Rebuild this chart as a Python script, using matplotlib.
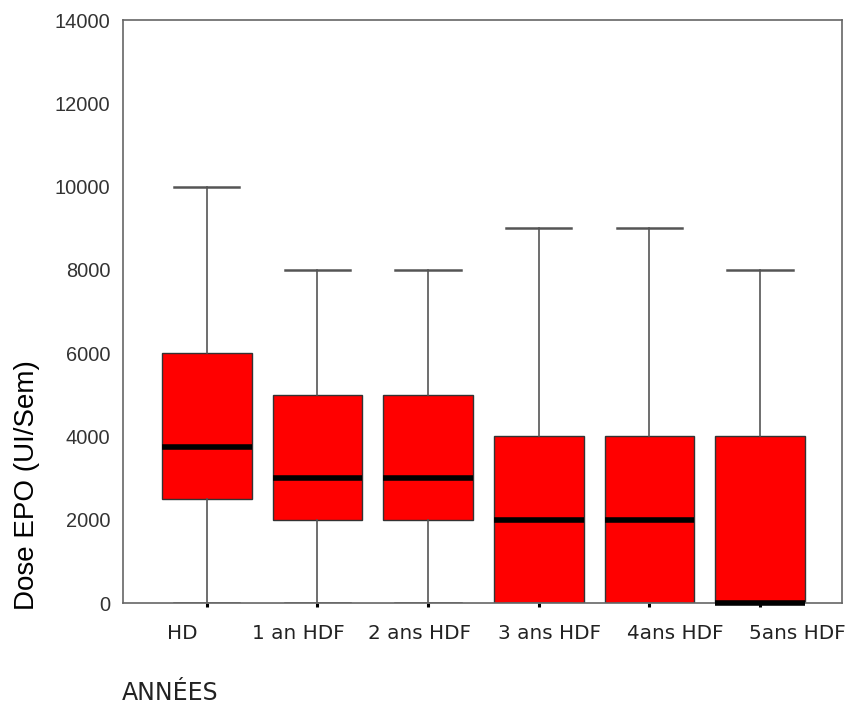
import matplotlib
matplotlib.use("Agg")
from matplotlib import pyplot as plt
import matplotlib.transforms as mtransforms

# EPO dose per year of treatment (box plot summary values)
groups = ['HD', '1 an HDF', '2 ans HDF', '3 ans HDF', '4ans HDF', '5ans HDF']
whis_low = [0, 0, 0, 0, 0, 0]
q1 = [2500, 2000, 2000, 0, 0, 0]
medians = [3750, 3000, 3000, 2000, 2000, 0]
q3 = [6000, 5000, 5000, 4000, 4000, 4000]
whis_high = [10000, 8000, 8000, 9000, 9000, 8000]

# where the group names sit along the x axis
label_x = [-0.22, 0.83, 1.92, 3.10, 4.23, 5.34]

stats = []
for g, lo, a, m, b, hi in zip(groups, whis_low, q1, medians, q3, whis_high):
    stats.append(dict(label=g, whislo=lo, q1=a, med=m, q3=b, whishi=hi, fliers=[]))

fig = plt.figure(figsize=(8.52, 7.07), dpi=100)
ax = fig.add_axes([0.1444, 0.1471, 0.8439, 0.8246])

pos = list(range(len(groups)))
bp = ax.bxp(stats, positions=pos, widths=0.81, capwidths=0.59,
            patch_artist=True, showfliers=False,
            boxprops=dict(facecolor='#ff0000', edgecolor='#333333', linewidth=1.0),
            medianprops=dict(color='black', linewidth=4, solid_capstyle='butt'),
            whiskerprops=dict(color='#555555', linewidth=1.2),
            capprops=dict(color='#555555', linewidth=1.8))
for med in bp['medians']:
    med.set_clip_on(False)
    med.set_zorder(3)

ax.set_xlim(-0.757, 5.74)
ax.set_ylim(0, 14000)
ax.set_yticks(range(0, 14001, 2000))
ax.set_xticks(pos)
ax.set_xticklabels([''] * len(groups))
ax.tick_params(axis='x', direction='out', length=3, width=2.2, color='black')
ax.tick_params(axis='y', length=0, pad=9, labelsize=14.4, labelcolor='#333333')
for lab in ax.get_yticklabels():
    lab.set_family('Liberation Sans')

for s in ax.spines.values():
    s.set_color('#666666')
    s.set_linewidth(1.2)
    s.set_zorder(2.6)

trans = mtransforms.blended_transform_factory(ax.transData, ax.transAxes)
for x, g in zip(label_x, groups):
    ax.text(x, -0.053, g, transform=trans, ha='center', va='center',
            fontsize=14.4, family='DejaVu Sans', color='#222222')

ax.set_ylabel('Dose EPO (UI/Sem)', fontsize=20, family='Liberation Sans',
              color='black')
ax.yaxis.set_label_coords(-0.134, -0.012, transform=ax.transAxes)
ax.yaxis.label.set_va('center')
ax.yaxis.label.set_ha('left')

fig.text(122 / 852, 1 - 693 / 707, 'ANNÉES', fontsize=17, family='DejaVu Sans',
         color='#222222', ha='left', va='center')

fig.savefig('out.png', dpi=100)
